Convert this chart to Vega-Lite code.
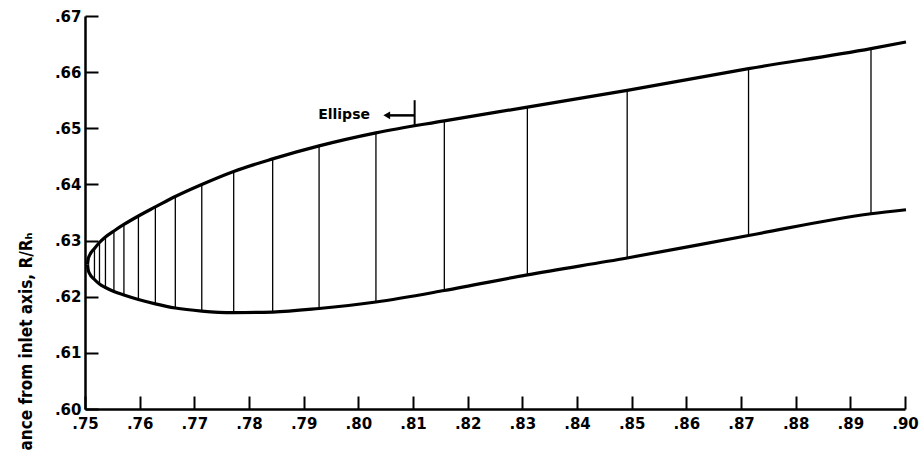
{
  "$schema": "https://vega.github.io/schema/vega-lite/v6.json",
  "width": 820,
  "height": 393,
  "autosize": {"type": "none"},
  "padding": {"left": 85, "top": 16, "right": 14, "bottom": 42},
  "background": "white",
  "config": {
    "view": {"stroke": null},
    "axis": {
      "grid": false,
      "domainColor": "black",
      "domainWidth": 2.5,
      "tickColor": "black",
      "tickWidth": 2,
      "tickSize": -13,
      "labelColor": "black",
      "labelFont": "DejaVu Sans",
      "labelFontWeight": "bold",
      "labelFontSize": 15,
      "titleColor": "black"
    }
  },
  "datasets": {
    "outline": [
      {"side": "upper", "x": 0.75046, "y": 0.62574},
      {"side": "upper", "x": 0.75058, "y": 0.62666},
      {"side": "upper", "x": 0.75082, "y": 0.62734},
      {"side": "upper", "x": 0.75173, "y": 0.62859},
      {"side": "upper", "x": 0.75265, "y": 0.62966},
      {"side": "upper", "x": 0.75374, "y": 0.63064},
      {"side": "upper", "x": 0.75529, "y": 0.63171},
      {"side": "upper", "x": 0.75712, "y": 0.63287},
      {"side": "upper", "x": 0.75977, "y": 0.63438},
      {"side": "upper", "x": 0.76287, "y": 0.63599},
      {"side": "upper", "x": 0.76652, "y": 0.63786},
      {"side": "upper", "x": 0.77136, "y": 0.64000},
      {"side": "upper", "x": 0.77720, "y": 0.64232},
      {"side": "upper", "x": 0.78433, "y": 0.64455},
      {"side": "upper", "x": 0.79282, "y": 0.64686},
      {"side": "upper", "x": 0.80322, "y": 0.64918},
      {"side": "upper", "x": 0.81573, "y": 0.65132},
      {"side": "upper", "x": 0.83092, "y": 0.65378},
      {"side": "upper", "x": 0.84918, "y": 0.65676},
      {"side": "upper", "x": 0.87138, "y": 0.66062},
      {"side": "upper", "x": 0.89378, "y": 0.66419},
      {"side": "upper", "x": 0.90018, "y": 0.66537},
      {"side": "lower", "x": 0.75046, "y": 0.62574},
      {"side": "lower", "x": 0.75058, "y": 0.62482},
      {"side": "lower", "x": 0.75082, "y": 0.62414},
      {"side": "lower", "x": 0.75173, "y": 0.62307},
      {"side": "lower", "x": 0.75265, "y": 0.62226},
      {"side": "lower", "x": 0.75374, "y": 0.62164},
      {"side": "lower", "x": 0.75529, "y": 0.62093},
      {"side": "lower", "x": 0.75712, "y": 0.62030},
      {"side": "lower", "x": 0.75977, "y": 0.61950},
      {"side": "lower", "x": 0.76287, "y": 0.61873},
      {"side": "lower", "x": 0.76652, "y": 0.61799},
      {"side": "lower", "x": 0.77136, "y": 0.61745},
      {"side": "lower", "x": 0.77720, "y": 0.61718},
      {"side": "lower", "x": 0.78433, "y": 0.61727},
      {"side": "lower", "x": 0.79282, "y": 0.61790},
      {"side": "lower", "x": 0.80322, "y": 0.61906},
      {"side": "lower", "x": 0.81573, "y": 0.62110},
      {"side": "lower", "x": 0.83092, "y": 0.62390},
      {"side": "lower", "x": 0.84918, "y": 0.62690},
      {"side": "lower", "x": 0.87138, "y": 0.63091},
      {"side": "lower", "x": 0.89378, "y": 0.63478},
      {"side": "lower", "x": 0.90018, "y": 0.63549}
    ],
    "stations": [
      {"x": 0.75173, "lo": 0.62307, "hi": 0.62859},
      {"x": 0.75265, "lo": 0.62226, "hi": 0.62966},
      {"x": 0.75374, "lo": 0.62164, "hi": 0.63064},
      {"x": 0.75529, "lo": 0.62093, "hi": 0.63171},
      {"x": 0.75712, "lo": 0.62030, "hi": 0.63287},
      {"x": 0.75977, "lo": 0.61950, "hi": 0.63438},
      {"x": 0.76287, "lo": 0.61873, "hi": 0.63599},
      {"x": 0.76652, "lo": 0.61799, "hi": 0.63786},
      {"x": 0.77136, "lo": 0.61745, "hi": 0.64000},
      {"x": 0.77720, "lo": 0.61718, "hi": 0.64232},
      {"x": 0.78433, "lo": 0.61727, "hi": 0.64455},
      {"x": 0.79282, "lo": 0.61790, "hi": 0.64686},
      {"x": 0.80322, "lo": 0.61906, "hi": 0.64918},
      {"x": 0.81573, "lo": 0.62110, "hi": 0.65132},
      {"x": 0.83092, "lo": 0.62390, "hi": 0.65378},
      {"x": 0.84918, "lo": 0.62690, "hi": 0.65676},
      {"x": 0.87138, "lo": 0.63091, "hi": 0.66062},
      {"x": 0.89378, "lo": 0.63478, "hi": 0.66419}
    ],
    "arrowLine": [{"x": 0.8055, "x2": 0.8103, "y": 0.6523}],
    "markTick": [{"x": 0.8103, "y": 0.6504, "y2": 0.6550}],
    "arrowHead": [{"x": 0.8052, "y": 0.6523}],
    "label": [{"x": 0.80286, "y": 0.6523, "text": "Ellipse"}]
  },
  "encoding": {
    "x": {
      "type": "quantitative",
      "scale": {"domain": [0.75, 0.90], "nice": false, "zero": false},
      "axis": {
        "title": null,
        "values": [0.75, 0.76, 0.77, 0.78, 0.79, 0.80, 0.81, 0.82, 0.83, 0.84, 0.85, 0.86, 0.87, 0.88, 0.89, 0.90],
        "labelExpr": "replace(format(datum.value, '.2f'), '0.', '.')",
        "labelPadding": 20,
        "labelFlush": false,
        "labelOverlap": false
      }
    },
    "y": {
      "type": "quantitative",
      "scale": {"domain": [0.60, 0.67], "nice": false, "zero": false},
      "axis": {
        "title": "ance from inlet axis,  R/Rₕ",
        "titleFont": "DejaVu Sans Condensed, Liberation Sans Narrow, DejaVu Sans",
        "titleFontWeight": "bold",
        "titleFontSize": 17,
        "titleAngle": -90,
        "titleAlign": "left",
        "titleBaseline": "alphabetic",
        "titleX": -54,
        "titleY": 434,
        "values": [0.60, 0.61, 0.62, 0.63, 0.64, 0.65, 0.66, 0.67],
        "labelExpr": "replace(format(datum.value, '.2f'), '0.', '.')",
        "labelPadding": 17,
        "labelFlush": false,
        "labelOverlap": false
      }
    }
  },
  "layer": [
    {
      "data": {"name": "stations"},
      "mark": {"type": "rule", "color": "black", "strokeWidth": 1.3},
      "encoding": {
        "x": {"field": "x", "type": "quantitative"},
        "y": {"field": "lo", "type": "quantitative"},
        "y2": {"field": "hi"}
      }
    },
    {
      "data": {"name": "outline"},
      "mark": {"type": "line", "color": "black", "strokeWidth": 3.2, "interpolate": "monotone"},
      "encoding": {
        "x": {"field": "x", "type": "quantitative"},
        "y": {"field": "y", "type": "quantitative"},
        "detail": {"field": "side"}
      }
    },
    {
      "data": {"name": "arrowLine"},
      "mark": {"type": "rule", "color": "black", "strokeWidth": 2.5},
      "encoding": {
        "x": {"field": "x", "type": "quantitative"},
        "x2": {"field": "x2"},
        "y": {"field": "y", "type": "quantitative"}
      }
    },
    {
      "data": {"name": "markTick"},
      "mark": {"type": "rule", "color": "black", "strokeWidth": 2},
      "encoding": {
        "x": {"field": "x", "type": "quantitative"},
        "y": {"field": "y", "type": "quantitative"},
        "y2": {"field": "y2"}
      }
    },
    {
      "data": {"name": "arrowHead"},
      "mark": {"type": "point", "shape": "triangle-left", "filled": true, "color": "black", "size": 60, "opacity": 1},
      "encoding": {
        "x": {"field": "x", "type": "quantitative"},
        "y": {"field": "y", "type": "quantitative"}
      }
    },
    {
      "data": {"name": "label"},
      "mark": {"type": "text", "align": "right", "baseline": "middle", "font": "DejaVu Sans", "fontWeight": "bold", "fontSize": 14, "color": "black", "dx": -4},
      "encoding": {
        "x": {"field": "x", "type": "quantitative"},
        "y": {"field": "y", "type": "quantitative"},
        "text": {"field": "text"}
      }
    }
  ]
}
